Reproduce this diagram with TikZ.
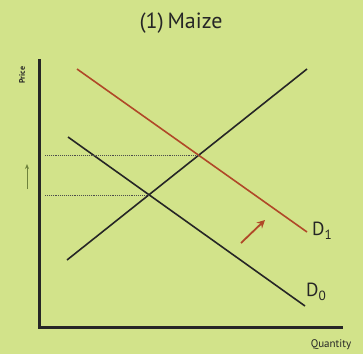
\documentclass[tikz,border=0pt]{standalone}
\usepackage{fontspec}
\setmainfont{PT Sans}
\usetikzlibrary{arrows.meta, calc, positioning}
\definecolor{bgcol}{RGB}{210,227,138}
\definecolor{shiftcol}{RGB}{176,72,40}
\definecolor{faintcol}{RGB}{110,130,60}

\begin{document}
\begin{tikzpicture}[x=1pt, y=-1pt,
    axis/.style={line width=3pt, black!85},
    curve/.style={line width=1.6pt, black!85},
    guide/.style={densely dotted, line width=0.9pt, black!70},
    lbl/.style={inner sep=0pt, text=black!85}]
  % background
  \fill[bgcol] (0,0) rectangle (363,354);
  \useasboundingbox (0,0) rectangle (363,354);

  % title
  \node[lbl, font=\fontsize{22}{26}\selectfont] (title) at (181,23) {(1)\,Maize};

  % axes
  \coordinate (ytop) at (39,59);
  \coordinate (origin) at (39,327);
  \coordinate (xend) at (343,327);
  \draw[axis] (ytop) -- (origin) -- (xend);
  \node[lbl, rotate=90, font=\fontsize{8}{9}\selectfont\bfseries] (price) at (22,75) {Price};
  \node[lbl, font=\fontsize{11}{12}\selectfont] (qty) at (331,345) {Quantity};

  % supply and demand curves
  \coordinate (s0) at (67,260);
  \coordinate (s1) at (307,69);
  \coordinate (d0a) at (68,137);
  \coordinate (d0b) at (305,306);
  \coordinate (d1a) at (77,69);
  \coordinate (d1b) at (307,232);
  \draw[curve] (s0) -- (s1);
  \draw[curve] (d0a) -- (d0b);
  \draw[curve, shiftcol] (d1a) -- (d1b);

  % equilibria
  \coordinate (e0) at (149,195);
  \coordinate (e1) at (199,155);
  \foreach \e/\p in {e0/p0, e1/p1} {
      \coordinate (\p) at (45,0 |- \e);
      \draw[guide] (\p) -- (\e);
    }

  % labels
  \node[lbl, font=\fontsize{19}{20}\selectfont, anchor=west] (labd1) at (312,231) {D\textsubscript{1}};
  \node[lbl, font=\fontsize{19}{20}\selectfont, anchor=west] (labd0) at (306,292) {D\textsubscript{0}};

  % shift arrows
  \coordinate (sa) at (241,243);
  \coordinate (sb) at (265,220);
  \draw[shiftcol, line width=1.8pt, -{Stealth[length=8pt, width=8pt]}] (sa) -- (sb);
  \coordinate (pa) at (27,189);
  \coordinate (pb) at (27,164);
  \draw[faintcol, line width=1pt, -{Stealth[length=5pt, width=4pt]}] (pa) -- (pb);
\end{tikzpicture}
\end{document}
